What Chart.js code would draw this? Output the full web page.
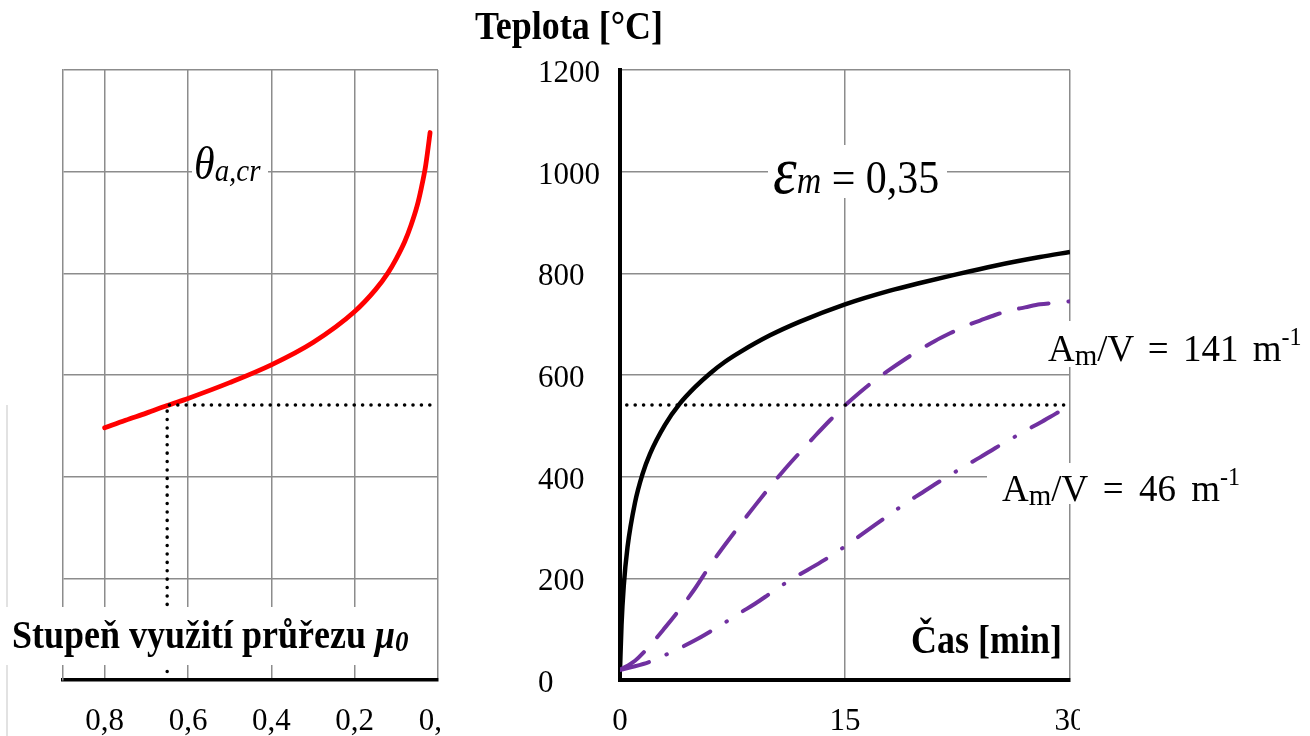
<!DOCTYPE html>
<html>
<head>
<meta charset="utf-8">
<script src="https://cdn.jsdelivr.net/npm/chart.js@4.4.1/dist/chart.umd.min.js"></script>
<style>
html,body{margin:0;padding:0;background:#fff;width:1310px;height:736px;overflow:hidden;position:relative}
.wrap{position:absolute;top:0;height:736px;overflow:hidden}
canvas{display:block}
#ov{position:absolute;left:0;top:0;pointer-events:none}
</style>
</head>
<body>
<div style="position:absolute;left:6px;top:405px;width:2px;height:331px;background:#e2e2e2"></div>
<div class="wrap" style="left:0;width:440px"><canvas id="cl" width="520" height="736"></canvas></div>
<div class="wrap" style="left:460px;width:620px"><canvas id="cr" width="700" height="736"></canvas></div>
<svg id="ov" width="1310" height="736" xmlns="http://www.w3.org/2000/svg" font-family="'Liberation Serif', 'Times New Roman', serif" fill="#000">
  <text transform="translate(475,39) scale(1,1.12)" font-weight="bold" font-size="36">Teplota [°C]</text>

  <rect x="192" y="150" width="76" height="42" fill="#fff"/>
  <text transform="translate(194,179) scale(1,1.1)" font-style="italic" font-size="42">θ<tspan font-size="29" dy="2">a,cr</tspan></text>

  <rect x="768" y="145" width="179" height="53" fill="#fff"/>
  <text transform="translate(773,193) scale(1,1.12)"><tspan font-style="italic" font-size="60">ε</tspan><tspan font-style="italic" font-size="34">m</tspan><tspan font-size="42"> = 0,35</tspan></text>

  <rect x="5" y="607" width="420" height="58" fill="#fff"/>
  <text transform="translate(12,648) scale(1,1.12)" font-weight="bold" font-size="36">Stupeň využití průřezu <tspan font-style="italic">μ</tspan><tspan font-style="italic" font-size="27" dy="3">0</tspan></text>

  <text transform="translate(1062,653) scale(1,1.12)" text-anchor="end" font-weight="bold" font-size="36">Čas [min]</text>

  <rect x="1030" y="321" width="280" height="46" fill="#fff"/>
  <text transform="translate(1048,361) scale(1,1.05)" font-size="37" word-spacing="5">A<tspan font-size="29" dy="4">m</tspan><tspan dy="-4">/V = 141 m</tspan><tspan font-size="24" dy="-15">-1</tspan></text>

  <rect x="987" y="463" width="263" height="41" fill="#fff"/>
  <text transform="translate(1002,501) scale(1,1.05)" font-size="37" word-spacing="6">A<tspan font-size="29" dy="4">m</tspan><tspan dy="-4">/V = 46 m</tspan><tspan font-size="24" dy="-15">-1</tspan></text>
</svg>

<script>
// ---- Left chart: critical temperature vs. degree of utilisation ----
const muValues = [0.80, 0.75, 0.70, 0.65, 0.60, 0.50, 0.40, 0.30, 0.20, 0.15, 0.12, 0.10, 0.08, 0.065, 0.05, 0.04, 0.03, 0.024, 0.019];
const thetaCr  = [496, 511, 525, 540, 554, 585, 620, 664, 725, 768, 801, 829, 862, 894, 933, 968, 1010, 1045, 1077];
const muTicks  = [0, 0.2, 0.4, 0.6, 0.8];
const critMuPath   = [0.65, 0.65, 0];
const critTempPath = [0, 541, 541];

// ---- Right chart: temperature vs. time ----
const timeGas = [0, 0.1, 0.25, 0.5, 1, 1.5, 2, 3, 4, 5, 6, 7, 8, 10, 12, 15, 18, 20, 22, 25, 28, 30];
const tempGas = [20, 108, 185, 261, 349, 405, 445, 502, 544, 576, 603, 626, 645, 678, 705, 739, 766, 781, 795, 815, 832, 842];
const time141 = [0, 1, 2, 3, 4, 5, 6, 7, 8, 9, 10, 11, 12, 13, 14, 15, 16, 17, 18, 19, 20, 21, 22, 23, 24, 25, 26, 27, 28, 29, 30];
const temp141 = [20, 38, 68, 103, 140, 180, 225, 266, 305, 343, 380, 415, 448, 480, 511, 540, 566, 590, 611, 631, 650, 667, 682, 696, 707, 718, 727, 733, 739, 742, 745];
const time46  = [0, 1, 2, 3, 4, 5, 6, 7, 8, 9, 10, 11, 12, 13, 14, 15, 16, 17, 18, 19, 20, 21, 22, 23, 24, 25, 26, 27, 28, 29, 30];
const temp46  = [20, 27, 36, 49, 63, 78, 95, 113, 132, 150, 170, 190, 208, 225, 243, 263, 284, 305, 326, 347, 366, 385, 403, 421, 438, 456, 473, 490, 506, 523, 540];
const timeCritPath = [0.45, 30];
const tempCritPath = [541, 541];
const timeTicks = [0, 15, 30];
const tempTicks = [0, 200, 400, 600, 800, 1000, 1200];

const pts = (xs, ys) => xs.map((x, i) => ({x: x, y: ys[i]}));
const setTicks = vals => scale => { scale.ticks = vals.map(v => ({value: v})); };
const GRID = '#8c8c8c';
const tickFont = {family: "'Liberation Serif', 'Times New Roman', serif", size: 31};
const common = {
  responsive: false, animation: false, devicePixelRatio: 1, events: [],
  plugins: {legend: {display: false}, tooltip: {enabled: false}},
  elements: {point: {radius: 0}}
};

new Chart(document.getElementById('cl'), {
  type: 'line',
  data: {datasets: [
    {data: pts(critMuPath, critTempPath), borderColor: '#000', borderWidth: 3.5, borderDash: [0.1, 8.3], borderCapStyle: 'round', tension: 0},
    {data: pts(muValues, thetaCr), borderColor: '#ff0000', borderWidth: 4.8, cubicInterpolationMode: 'monotone', borderCapStyle: 'round'}
  ]},
  options: Object.assign({}, common, {
    layout: {padding: {left: 0, right: 82, top: 70, bottom: 0}},
    scales: {
      x: {type: 'linear', reverse: true, min: 0, max: 0.9,
          afterBuildTicks: setTicks(muTicks),
          afterFit: s => { s.height = 56; },
          grid: {color: GRID, lineWidth: 1.5, drawTicks: false},
          border: {color: '#000', width: 3.5},
          ticks: {font: tickFont, color: '#000', padding: 23, maxRotation: 0, autoSkip: false,
                  callback: v => v.toFixed(1).replace('.', ',')}
      },
      y: {type: 'linear', min: 0, max: 1200,
          afterBuildTicks: setTicks(tempTicks),
          afterFit: s => { s.width = 63; },
          grid: {color: GRID, lineWidth: 1.5, drawTicks: false},
          border: {color: GRID, width: 1.5},
          ticks: {display: false}
      }
    }
  })
});

new Chart(document.getElementById('cr'), {
  type: 'line',
  data: {datasets: [
    {data: pts(timeCritPath, tempCritPath), borderColor: '#000', borderWidth: 3.5, borderDash: [0.1, 8.3], borderCapStyle: 'round', tension: 0},
    {data: pts(time46, temp46), borderColor: '#7030a0', borderWidth: 4, borderDash: [30, 19, 0.5, 19], borderCapStyle: 'round', cubicInterpolationMode: 'monotone'},
    {data: pts(time141, temp141), borderColor: '#7030a0', borderWidth: 4, borderDash: [30, 20], borderCapStyle: 'round', cubicInterpolationMode: 'monotone'},
    {data: pts(timeGas, tempGas), borderColor: '#000', borderWidth: 4.5, cubicInterpolationMode: 'monotone'}
  ]},
  options: Object.assign({}, common, {
    layout: {padding: {left: 78, right: 90, top: 70, bottom: 0}},
    scales: {
      x: {type: 'linear', min: 0, max: 30,
          afterBuildTicks: setTicks(timeTicks),
          afterFit: s => { s.height = 56; },
          grid: {color: GRID, lineWidth: 1.5, drawTicks: false},
          border: {color: '#000', width: 4},
          ticks: {font: tickFont, color: '#000', padding: 23, maxRotation: 0, autoSkip: false,
                  callback: v => String(v)}
      },
      y: {type: 'linear', min: 0, max: 1200,
          afterBuildTicks: setTicks(tempTicks),
          afterFit: s => { s.width = 82; },
          grid: {color: GRID, lineWidth: 1.5, drawTicks: false},
          border: {color: '#000', width: 4},
          ticks: {font: tickFont, color: '#000', crossAlign: 'far', padding: 10, labelOffset: 4, autoSkip: false,
                  callback: v => String(v)}
      }
    }
  })
});
</script>
</body>
</html>
